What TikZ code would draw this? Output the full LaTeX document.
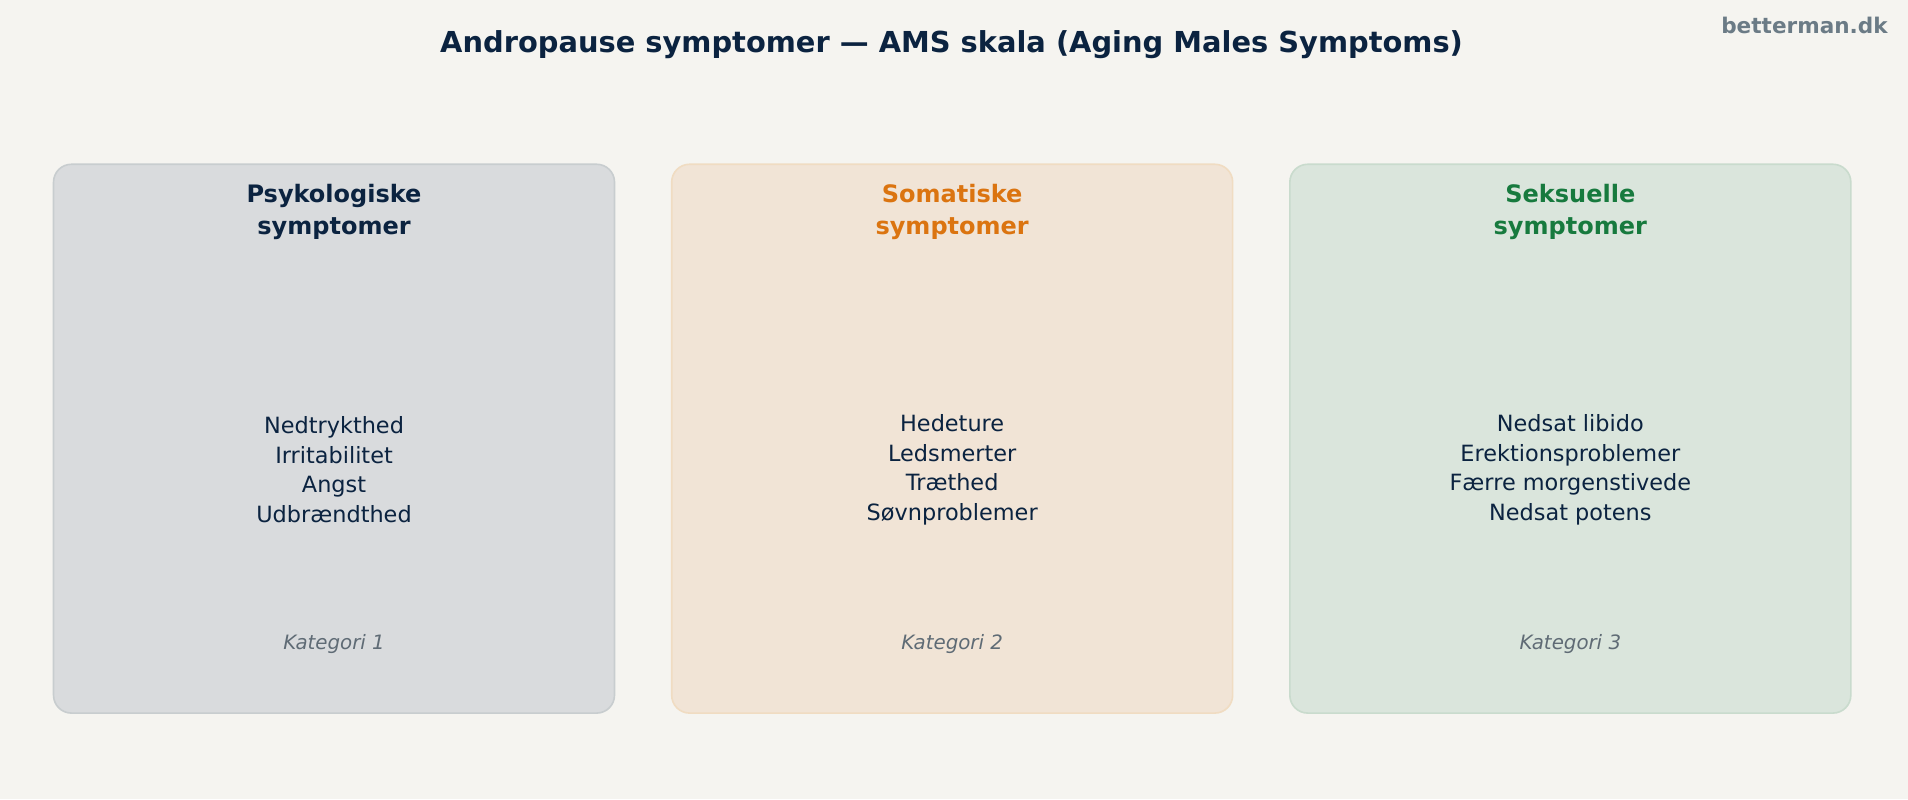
\documentclass[tikz,border=0pt]{standalone}
\usepackage{fontspec}
\setmainfont{DejaVu Sans}
\definecolor{bg}{HTML}{F5F4F0}
\definecolor{navy}{HTML}{0B2340}
\definecolor{orng}{HTML}{DB7410}
\definecolor{grn}{HTML}{177A3E}
\definecolor{gr}{HTML}{5F6B75}
\definecolor{brand}{HTML}{6B7B86}
\definecolor{fA}{HTML}{D9DBDD}\definecolor{sA}{HTML}{C8CDCF}
\definecolor{fB}{HTML}{F1E4D6}\definecolor{sB}{HTML}{F0DCC2}
\definecolor{fC}{HTML}{DAE5DC}\definecolor{sC}{HTML}{C9DBCD}
\begin{document}
\begin{tikzpicture}[x=0.75pt,y=-0.75pt,
  card/.style={rounded corners=11pt,line width=1pt},
  head/.style={font=\fontsize{14.8}{19.5}\selectfont\bfseries,align=center},
  items/.style={font=\fontsize{13.8}{18.2}\selectfont,text=navy,align=center},
  kat/.style={font=\fontsize{12.2}{14}\selectfont\itshape,text=gr}]
\fill[bg] (0,0) rectangle (1568,657);
\useasboundingbox (0,0) rectangle (1568,657);
\node[font=\fontsize{17.8}{20}\selectfont\bfseries,text=navy] (title) at (782,37) {Andropause symptomer — AMS skala (Aging Males Symptoms)};
\node[font=\fontsize{13.3}{15}\selectfont\bfseries,text=brand,anchor=east] (brand) at (1556,21) {betterman.dk};
\foreach \i/\x/\f/\s/\c/\h/\t in {
 1/44/fA/sA/navy/{Psykologiske\\symptomer}/{Nedtrykthed\\Irritabilitet\\Angst\\Udbrændthed},
 2/552/fB/sB/orng/{Somatiske\\symptomer}/{Hedeture\\Ledsmerter\\Træthed\\Søvnproblemer},
 3/1060/fC/sC/grn/{Seksuelle\\symptomer}/{Nedsat libido\\Erektionsproblemer\\Færre morgenstivede\\Nedsat potens}}{
 \draw[card,fill=\f,draw=\s] (\x,135) rectangle ++(461,451);
 \node[head,text=\c] (h\i) at (\x+230.5,174) {\h};
 \node[items] (t\i) at (\x+230.5,386) {\t};
 \node[kat] (k\i) at (\x+230.5,529) {Kategori \i};
}
\end{tikzpicture}
\end{document}
